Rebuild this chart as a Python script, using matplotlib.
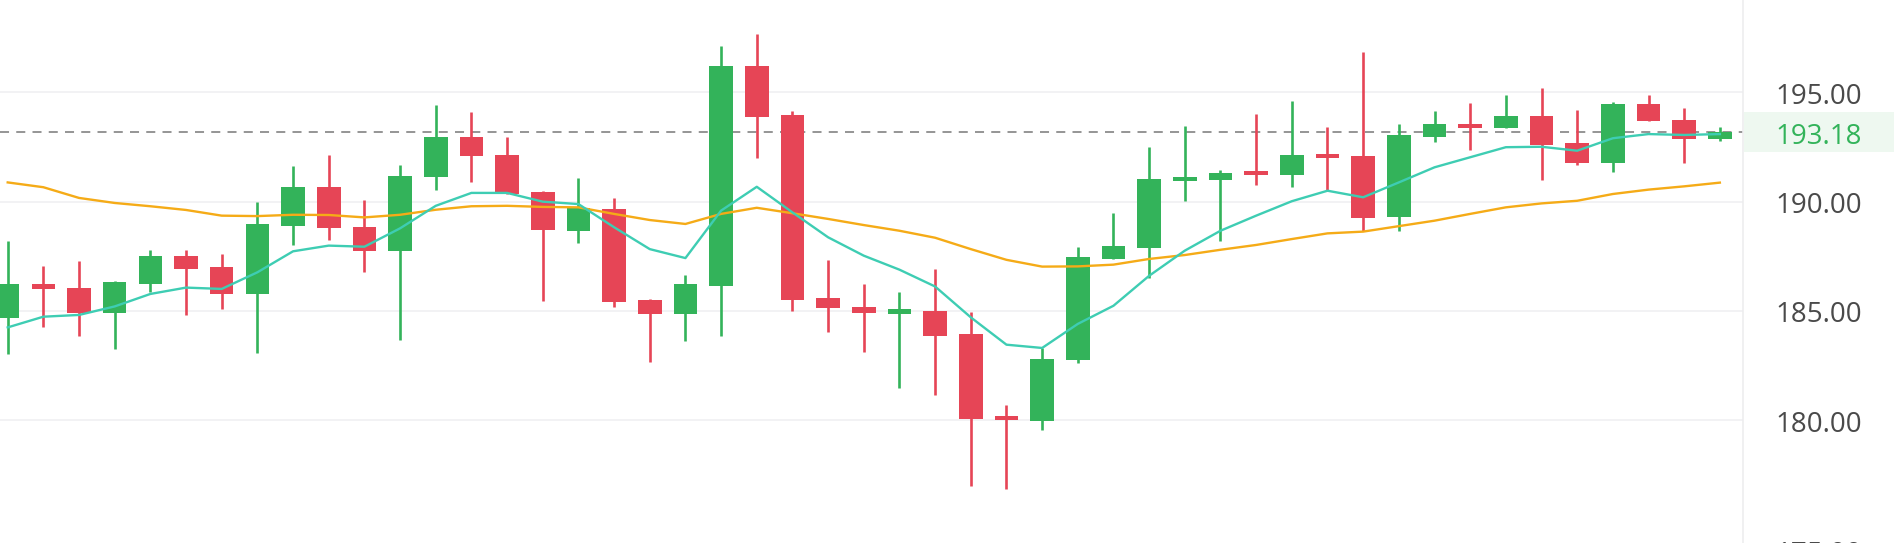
import matplotlib
matplotlib.use("Agg")
import matplotlib.pyplot as plt
from matplotlib.patches import Rectangle
import numpy as np

# ---------------- data ----------------
opens = [184.69, 186.22, 186.07, 184.91, 186.23, 187.51, 187.00, 185.79, 188.90, 190.68,
         188.83, 187.76, 191.11, 192.94, 192.15, 190.46, 188.67, 189.68, 185.50, 184.86,
         186.16, 196.20, 193.98, 185.58, 185.18, 184.88, 184.99, 183.96, 180.14, 179.98,
         182.76, 187.38, 187.90, 190.94, 190.99, 191.32, 191.20, 192.15, 192.07, 189.28,
         192.97, 193.52, 193.35, 193.90, 192.67, 191.75, 194.47, 193.75, 192.85]
highs = [188.21, 187.07, 187.27, 186.38, 187.80, 187.80, 187.61, 190.00, 191.64, 192.13,
         190.06, 191.69, 194.42, 194.09, 192.94, 190.50, 191.08, 190.15, 185.56, 186.65,
         197.13, 197.68, 194.16, 187.35, 186.22, 185.86, 186.91, 184.94, 180.70, 183.29,
         187.91, 189.47, 192.51, 193.45, 191.43, 193.99, 194.60, 193.40, 196.83, 193.54,
         194.13, 194.50, 194.88, 195.18, 194.19, 194.57, 194.86, 194.28, 193.43]
lows = [183.03, 184.28, 183.87, 183.26, 185.86, 184.82, 185.09, 183.08, 188.03, 188.26,
        186.77, 183.69, 190.53, 190.90, 190.36, 185.47, 188.12, 185.17, 182.65, 183.64,
        183.84, 192.00, 184.99, 184.03, 183.11, 181.47, 181.16, 177.01, 176.86, 179.56,
        182.61, 187.38, 186.52, 190.02, 188.21, 190.76, 190.68, 190.50, 188.67, 188.64,
        192.71, 192.36, 193.35, 190.99, 191.69, 191.34, 193.67, 191.75, 192.76]
closes = [186.22, 186.00, 184.91, 186.34, 187.51, 186.92, 185.79, 188.96, 190.68, 188.78,
          187.76, 191.17, 192.97, 192.09, 190.36, 188.69, 189.70, 185.43, 184.86, 186.22,
          196.22, 193.88, 185.50, 185.12, 184.90, 184.97, 183.87, 180.08, 180.02, 182.81,
          187.46, 187.96, 191.02, 191.05, 191.31, 191.20, 192.15, 192.00, 189.25, 193.03,
          193.54, 193.37, 193.90, 192.60, 191.77, 194.45, 193.67, 192.85, 193.18]

ma_short = [184.25, 184.74, 184.82, 185.21, 185.78, 186.07, 186.01, 186.77, 187.73, 187.99,
            187.94, 188.78, 189.81, 190.40, 190.40, 190.00, 189.89, 188.83, 187.83, 187.42,
            189.59, 190.68, 189.51, 188.37, 187.53, 186.89, 186.12, 184.71, 183.46, 183.31,
            184.41, 185.24, 186.61, 187.76, 188.67, 189.36, 190.02, 190.50, 190.20, 190.88,
            191.57, 192.03, 192.49, 192.51, 192.33, 192.90, 193.09, 193.05, 193.09]
ma_long = [190.88, 190.66, 190.17, 189.94, 189.79, 189.62, 189.36, 189.34, 189.40, 189.39,
           189.28, 189.40, 189.63, 189.79, 189.81, 189.76, 189.74, 189.44, 189.16, 188.98,
           189.44, 189.72, 189.47, 189.21, 188.93, 188.67, 188.35, 187.83, 187.34, 187.03,
           187.04, 187.12, 187.38, 187.56, 187.80, 188.02, 188.29, 188.55, 188.63, 188.88,
           189.13, 189.44, 189.74, 189.92, 190.04, 190.35, 190.55, 190.70, 190.87]

ytick_values = [180, 185, 190, 195]
last_price = 193.18
bottom_label = "175.00"

# ---------------- style ----------------
GREEN = "#33B35A"
RED = "#E64556"
TEAL = "#3ECDB3"
ORANGE = "#F5AB17"
GRID = "#F1F1F3"
LABEL = "#4A4A4A"
FONT = "Open Sans"

W, H = 1894, 544
fig = plt.figure(figsize=(18.94, 5.4399), dpi=100)
fig.patch.set_facecolor("white")
plot_right = 1743
ax = fig.add_axes([0, 0, plot_right / W, 1])

px_per_unit = 21.87
y195 = 93.3
ytop = 195 + y195 / px_per_unit
ybot = 195 - (H - y195) / px_per_unit
ax.set_ylim(ybot, ytop)
spacing = 35.67
x0 = 7.7
ax.set_xlim(-x0 / spacing, (plot_right - x0) / spacing)

for s in ax.spines.values():
    s.set_visible(False)
ax.set_xticks([])
ax.set_yticks([])

for v in ytick_values:
    ax.axhline(v, color=GRID, lw=1.3, zorder=0)

x = np.arange(len(opens))
o = np.array(opens); c = np.array(closes)
h = np.array(highs); l = np.array(lows)
up = c >= o
cols = np.where(up, GREEN, RED)

ax.vlines(x, l, h, colors=cols, lw=1.9, zorder=2)
body_bottom = np.minimum(o, c)
body_h = np.maximum(np.abs(c - o), 0.2)
ax.bar(x, body_h, bottom=body_bottom, width=0.66, color=cols, zorder=3, linewidth=0)

ax.plot(x, ma_long, color=ORANGE, lw=1.7, zorder=4, solid_joinstyle="round")
ax.plot(x, ma_short, color=TEAL, lw=1.7, zorder=4, solid_joinstyle="round")

ax.axhline(last_price, color="#8C8C8C", lw=1.3, dashes=(5, 4), zorder=1)

# right price axis
fig.add_artist(plt.Line2D([plot_right / W] * 2, [0, 1], color="#EDEDEF", lw=1.2,
                          transform=fig.transFigure))
label_x = 1775 / W
def fy(price):
    return 1 - (y195 + (195 - price) * px_per_unit) / H

for v in ytick_values:
    fig.text(label_x, fy(v), f"{v:.2f}", fontsize=20, color=LABEL, family=FONT,
             ha="left", va="center_baseline")

fig.text(label_x, 1 - 541.5 / H, bottom_label, fontsize=20, color=LABEL, family=FONT,
         ha="left", va="top")

box_top, box_bot = 113, 153
fig.add_artist(Rectangle((plot_right / W + 0.0005, 1 - box_bot / H),
                         (W - plot_right) / W, (box_bot - box_top) / H,
                         transform=fig.transFigure, facecolor="#EEF8F0",
                         edgecolor="none", zorder=0))
fig.text(label_x, fy(last_price), f"{last_price:.2f}", fontsize=20, color=GREEN,
         family=FONT, ha="left", va="center_baseline")

fig.savefig("out.png", dpi=100, facecolor="white")
